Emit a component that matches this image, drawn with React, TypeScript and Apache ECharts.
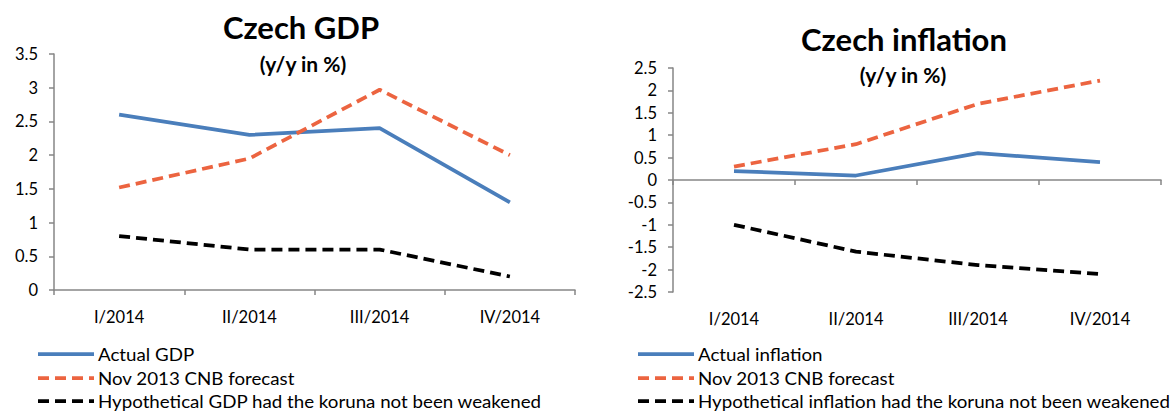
import React, { useEffect, useRef } from "react";
import * as echarts from "echarts";

const quarters = ["I/2014", "II/2014", "III/2014", "IV/2014"];

const gdpActual = [2.6, 2.3, 2.4, 1.3];
const gdpForecast = [1.52, 1.95, 2.97, 2.0];
const gdpHypothetical = [0.8, 0.6, 0.6, 0.2];

const inflActual = [0.2, 0.1, 0.6, 0.4];
const inflForecast = [0.3, 0.8, 1.7, 2.22];
const inflHypothetical = [-1.0, -1.6, -1.9, -2.1];

const gdpNames = [
  "Actual GDP",
  "Nov 2013 CNB forecast",
  "Hypothetical GDP had the koruna not been weakened",
];
const inflNames = [
  "Actual inflation",
  "Nov 2013 CNB forecast",
  "Hypothetical inflation had the koruna not been weakened",
];

const FONT = "Lato";
const BLUE = "#4A7EBB";
const ORANGE = "#EC6440";
const BLACK = "#000000";
const AXIS = "#868686";
const COLORS = [BLUE, ORANGE, BLACK];
const DASH = [11, 6];

export default function App() {
  const ref = useRef<HTMLDivElement>(null);
  useEffect(() => {
    if (!ref.current) return;
    const chart = echarts.init(ref.current, undefined, { renderer: "svg" });
    const axisLabelStyle = { fontFamily: FONT, fontSize: 16.5, color: "#000" };
    const mkLine = (name: string, data: number[], color: string, dashed: boolean, xi: number, yi: number) => ({
      type: "line",
      name,
      data,
      xAxisIndex: xi,
      yAxisIndex: yi,
      symbol: "none",
      color,
      lineStyle: { color, width: 3.75, type: dashed ? DASH : "solid", cap: "butt" },
    });
    const legendGraphics = (names: string[], x0: number) => {
      const rowsY = [354, 378, 401];
      const els: any[] = [];
      names.forEach((n, i) => {
        els.push({
          type: "line",
          shape: { x1: x0, y1: rowsY[i], x2: x0 + 56, y2: rowsY[i] },
          style: { stroke: COLORS[i], lineWidth: 3.75, lineDash: i === 0 ? null : DASH },
        });
        els.push({
          type: "text",
          x: x0 + 60,
          y: rowsY[i],
          scaleX: 1.07,
          style: { text: n, fontFamily: FONT, fontSize: 17.5, fill: "#000", textVerticalAlign: "middle", textAlign: "left" },
        });
      });
      return els;
    };
    chart.setOption({
      animation: false,
      backgroundColor: "#fff",
      title: [
        { text: "Czech GDP", left: 296, top: 6, textAlign: "center", textStyle: { fontFamily: FONT, fontSize: 31, fontWeight: "bold", color: "#000" } },
        { text: "(y/y in %)", left: 298, top: 48, textAlign: "center", textStyle: { fontFamily: FONT, fontSize: 21, fontWeight: "bold", color: "#000" } },
        { text: "Czech inflation", left: 899, top: 18, textAlign: "center", textStyle: { fontFamily: FONT, fontSize: 31, fontWeight: "bold", color: "#000" } },
        { text: "(y/y in %)", left: 898, top: 59, textAlign: "center", textStyle: { fontFamily: FONT, fontSize: 21, fontWeight: "bold", color: "#000" } },
      ],
      grid: [
        { left: 54, top: 54, width: 521, height: 236 },
        { left: 673, top: 68, width: 488, height: 224 },
      ],
      xAxis: [
        {
          type: "category", gridIndex: 0, data: quarters, boundaryGap: true,
          axisLine: { show: true, lineStyle: { color: AXIS, width: 1.5 } },
          axisTick: { show: true, length: 5, lineStyle: { color: AXIS, width: 1.5 } },
          axisLabel: { ...axisLabelStyle, margin: 18 },
        },
        {
          type: "category", gridIndex: 1, data: quarters, boundaryGap: true,
          axisLine: { show: true, onZero: true, lineStyle: { color: AXIS, width: 1.5 } },
          axisTick: { show: true, length: 5, lineStyle: { color: AXIS, width: 1.5 } },
          axisLabel: { show: false },
        },
        {
          type: "category", gridIndex: 1, data: quarters, boundaryGap: true, position: "bottom",
          axisLine: { show: false, onZero: false },
          axisTick: { show: false },
          axisLabel: { ...axisLabelStyle, margin: 18 },
        },
      ],
      yAxis: [
        {
          type: "value", gridIndex: 0, min: 0, max: 3.5, interval: 0.5,
          axisLine: { show: true, lineStyle: { color: AXIS, width: 1.5 } },
          axisTick: { show: true, length: 5, lineStyle: { color: AXIS, width: 1.5 } },
          splitLine: { show: false },
          axisLabel: { ...axisLabelStyle, margin: 16 },
        },
        {
          type: "value", gridIndex: 1, min: -2.5, max: 2.5, interval: 0.5,
          axisLine: { show: true, lineStyle: { color: AXIS, width: 1.5 } },
          axisTick: { show: true, length: 5, lineStyle: { color: AXIS, width: 1.5 } },
          splitLine: { show: false },
          axisLabel: { ...axisLabelStyle, margin: 16 },
        },
      ],
      graphic: [...legendGraphics(gdpNames, 38), ...legendGraphics(inflNames, 638)],
      series: [
        mkLine(gdpNames[0], gdpActual, BLUE, false, 0, 0),
        mkLine(gdpNames[1], gdpForecast, ORANGE, true, 0, 0),
        mkLine(gdpNames[2], gdpHypothetical, BLACK, true, 0, 0),
        mkLine(inflNames[0], inflActual, BLUE, false, 1, 1),
        mkLine(inflNames[1], inflForecast, ORANGE, true, 1, 1),
        mkLine(inflNames[2], inflHypothetical, BLACK, true, 1, 1),
      ],
    });
    return () => chart.dispose();
  }, []);
  return <div ref={ref} style={{ position: "absolute", left: 0, top: 0, width: 1171, height: 412 }} />;
}
